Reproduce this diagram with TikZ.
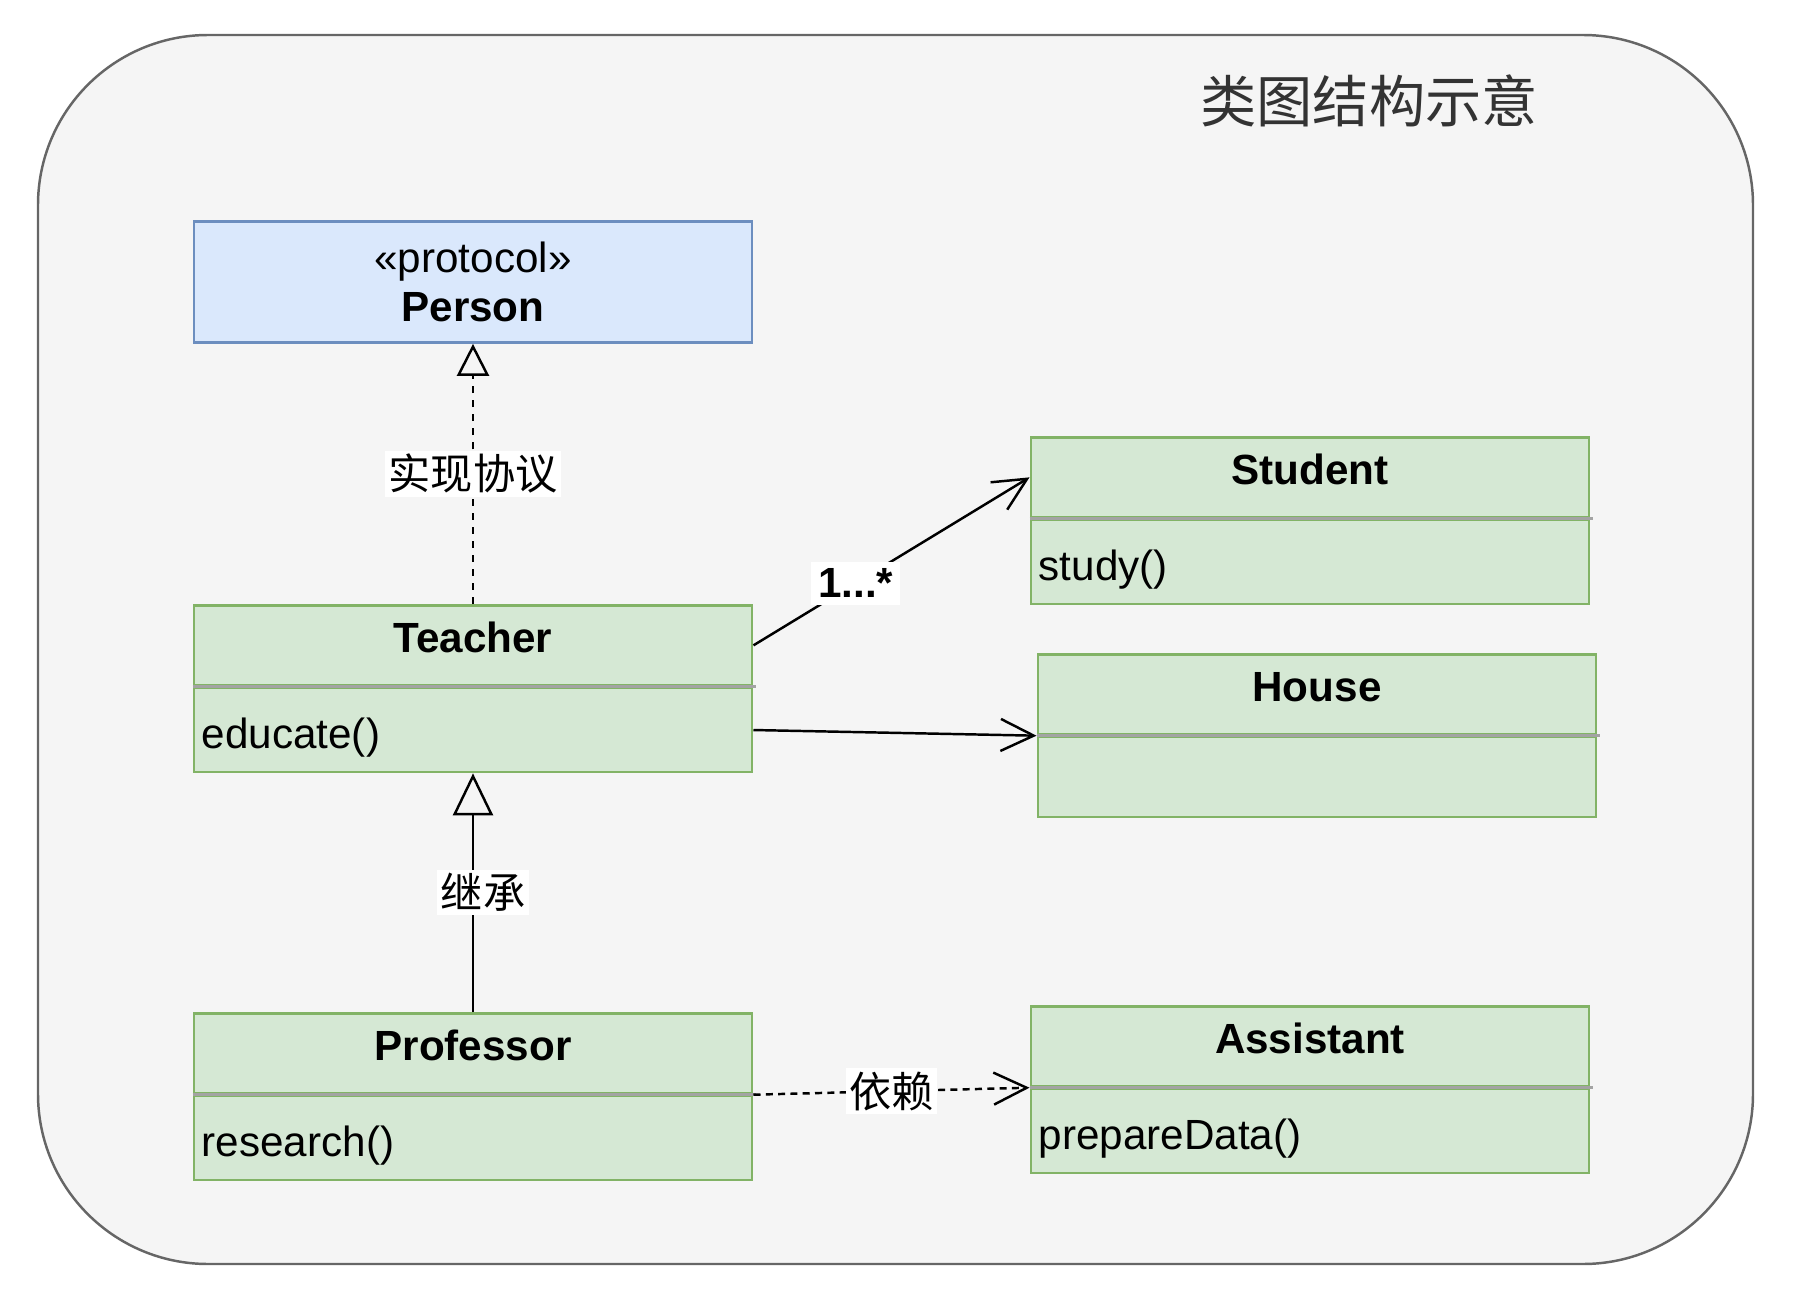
\documentclass[tikz,border=0pt]{standalone}
\usepackage{fontspec}
\setmainfont{Liberation Sans}
\newfontfamily\cjk{Noto Sans CJK SC}
\usetikzlibrary{arrows.meta,positioning}

\definecolor{frameline}{HTML}{666666}
\definecolor{framefill}{HTML}{F5F5F5}
\definecolor{classline}{HTML}{82B366}
\definecolor{classfill}{HTML}{D5E8D4}
\definecolor{protoline}{HTML}{6C8EBF}
\definecolor{protofill}{HTML}{DAE8FC}
\definecolor{sepgray}{HTML}{A3A3A3}
\definecolor{titlegray}{HTML}{333333}

\tikzset{
	classhead/.style={rectangle,draw=classline,fill=classfill,line width=0.75pt,minimum width=5.58cm,minimum height=0.8cm,text height=0.31cm,text depth=0.16cm,inner sep=0pt,anchor=north,font=\fontsize{12}{14}\selectfont\bfseries},
	classbody/.style={rectangle,draw=classline,fill=classfill,line width=0.75pt,minimum height=0.84cm,text width=5.42cm,text height=0.46cm,text depth=0.1cm,inner xsep=0.08cm,inner ysep=0pt,align=left,font=\fontsize{12}{14}\selectfont},
	protobox/.style={rectangle,draw=protoline,fill=protofill,line width=0.75pt,minimum width=5.58cm,minimum height=1.21cm,inner sep=0pt,align=center,font=\fontsize{12}{14}\selectfont},
	sepline/.style={sepgray,line width=0.8pt},
	edgelabel/.style={fill=white,inner sep=1pt,font=\cjk\fontsize{12}{14}\selectfont},
	multlabel/.style={fill=white,inner sep=2pt,font=\fontsize{12}{14}\selectfont\bfseries},
	realize/.style={line width=0.7pt,dash pattern=on 2pt off 2pt,-{Triangle[open,length=3.2mm,width=3.2mm]}},
	inherit/.style={line width=0.7pt,-{Triangle[open,length=4.2mm,width=4mm]}},
	assoc/.style={line width=0.7pt,-{Straight Barb[length=3.3mm,width=3.2mm]}},
	depend/.style={line width=0.7pt,dash pattern=on 2pt off 1.5pt,-{Straight Barb[length=3.3mm,width=3.2mm]}}
}

\begin{document}
\begin{tikzpicture}[x=0.01cm,y=-0.01cm]
	\useasboundingbox (0,0) rectangle (1808,1312);
	\draw[frameline,fill=framefill,line width=0.7pt,rounded corners=1.7cm] (38,35) rectangle (1753,1264);
	\node[titlegray,font=\cjk\fontsize{16}{19}\selectfont] (title) at (1369,101) {类图结构示意};

	\node[protobox] (person) at (473,282) {«protocol»\\\textbf{Person}};

	\node[classhead] (teacher) at (473,604) {Teacher};
	\node[classbody,below=0pt of teacher] (teacherbody) {educate()};

	\node[classhead] (student) at (1310,436) {Student};
	\node[classbody,below=0pt of student] (studentbody) {study()};

	\node[classhead] (house) at (1317,653) {House};
	\node[classbody,below=0pt of house,minimum height=0.8cm] (housebody) {};

	\node[classhead] (professor) at (473,1012) {Professor};
	\node[classbody,below=0pt of professor] (professorbody) {research()};

	\node[classhead] (assistant) at (1310,1005) {Assistant};
	\node[classbody,below=0pt of assistant] (assistantbody) {prepareData()};

	\foreach \cls in {teacher,student,house,professor,assistant}
		\draw[sepline] (\cls.south west) -- ([xshift=0.03cm]\cls.south east);

	\draw[realize] (teacher.north) -- node[edgelabel] {实现协议} (person.south);
	\draw[assoc] (teacher.east) -- node[multlabel,pos=0.37] {1...*} (student.west);
	\draw[assoc] (teacherbody.east) -- (house.south west);
	\draw[inherit] (professor.north) -- node[edgelabel,xshift=1mm] {继承} (teacherbody.south);
	\draw[depend] (professor.south east) -- node[edgelabel] {依赖} (assistant.south west);
\end{tikzpicture}
\end{document}
